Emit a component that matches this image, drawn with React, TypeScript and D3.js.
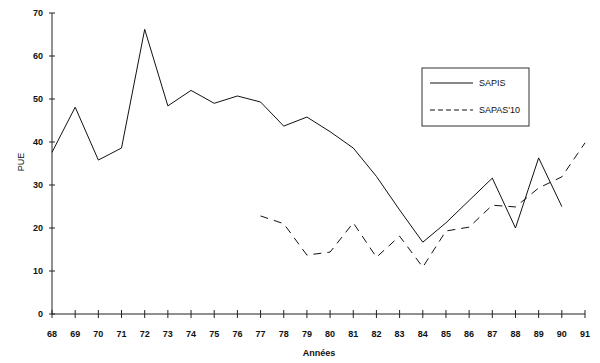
import React from "react";
import * as d3 from "d3";

const years = ["68","69","70","71","72","73","74","75","76","77","78","79","80","81","82","83","84","85","86","87","88","89","90","91"];
const sapis: (number | null)[] = [37.6, 48.1, 35.8, 38.6, 66.2, 48.4, 52.0, 49.0, 50.7, 49.3, 43.7, 45.8, 42.4, 38.6, 32.0, 24.2, 16.7, 21.2, 26.4, 31.6, 20.0, 36.3, 25.0, null];
const sapas: (number | null)[] = [null, null, null, null, null, null, null, null, null, 22.8, 21.0, 13.7, 14.4, 21.2, 13.2, 18.1, 10.9, 19.3, 20.2, 25.3, 24.9, 29.3, 31.9, 39.8];
const yTicks = [0, 10, 20, 30, 40, 50, 60, 70];
const seriesNames = ["SAPIS", "SAPAS'10"];

export default function App() {
  const W = 600, H = 363;
  const x = d3.scaleLinear().domain([0, years.length - 1]).range([52, 585]);
  const y = d3.scaleLinear().domain([0, 70]).range([314, 13]);
  const line = d3.line<number | null>()
    .defined(d => d !== null)
    .x((_, i) => x(i))
    .y(d => y(d as number));
  const font = "'Liberation Sans', Arial, sans-serif";
  return (
    <svg width={W} height={H} style={{ position: "absolute", left: 0, top: 0, background: "#fff" }}>
      <line x1={x(0)} x2={x(0)} y1={y(70)} y2={y(0)} stroke="#222" strokeWidth={1} />
      <line x1={x(0)} x2={x(years.length - 1)} y1={y(0)} y2={y(0)} stroke="#222" strokeWidth={1.2} />
      {yTicks.map(t => (
        <g key={t}>
          <line x1={x(0) - 3} x2={x(0) + 3} y1={y(t)} y2={y(t)} stroke="#222" />
          <text x={43} y={y(t)} dy="0.35em" textAnchor="end" fontFamily={font} fontSize={9} fontWeight="bold" fill="#111">{t}</text>
        </g>
      ))}
      {years.map((yr, i) => (
        <g key={yr}>
          <line x1={x(i)} x2={x(i)} y1={y(0) - 4} y2={y(0) + 4} stroke="#222" />
          <text x={x(i)} y={337} textAnchor="middle" fontFamily={font} fontSize={9} fontWeight="bold" fill="#111">{yr}</text>
        </g>
      ))}
      <text x={319} y={356} textAnchor="middle" fontFamily={font} fontSize={9} fontWeight="bold" fill="#111">Années</text>
      <text transform="translate(24,162) rotate(-90)" textAnchor="middle" fontFamily={font} fontSize={9} fill="#111">PUE</text>
      <path d={line(sapis) || ""} fill="none" stroke="#111" strokeWidth={1} />
      <path d={line(sapas) || ""} fill="none" stroke="#111" strokeWidth={1} strokeDasharray="8,6" />
      <rect x={422} y={68} width={107} height={58} fill="none" stroke="#333" strokeWidth={1} />
      <line x1={430} x2={473} y1={83} y2={83} stroke="#111" />
      <text x={479} y={83} dy="0.35em" fontFamily={font} fontSize={9} fill="#111">{seriesNames[0]}</text>
      <line x1={430} x2={473} y1={110} y2={110} stroke="#111" strokeDasharray="5,3" />
      <text x={479} y={110} dy="0.35em" fontFamily={font} fontSize={9} fill="#111">{seriesNames[1]}</text>
    </svg>
  );
}
